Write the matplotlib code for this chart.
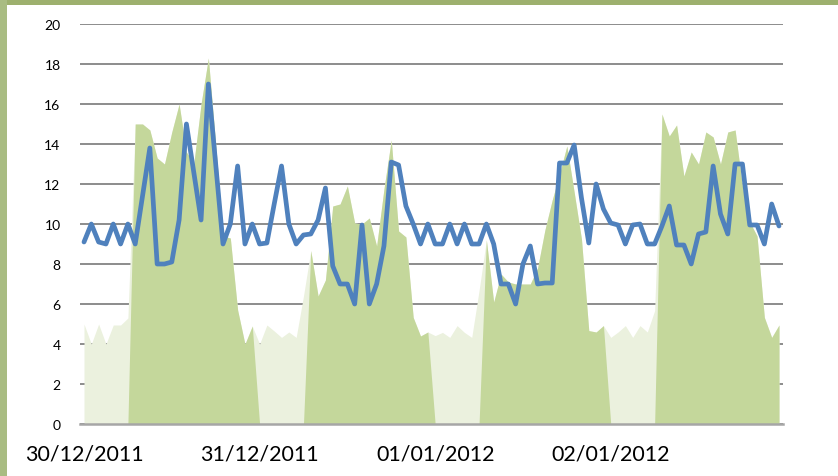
import matplotlib
matplotlib.use("Agg")
import matplotlib.pyplot as plt
from matplotlib.patches import Rectangle

# ---------------- data (hourly, 30/12/2011 00:00 .. 02/01/2012 23:00) ----------------
hours = list(range(96))

tick_positions = [0, 24, 48, 72]
tick_labels = ["30/12/2011", "31/12/2011", "01/01/2012", "02/01/2012"]

# total (light area: shows where the peak series is zero)
off_peak = [
    5.0, 4.0, 5.0, 4.0, 4.95, 4.95, 5.3, 15.0, 15.0, 14.7, 13.3, 13.0,
    14.6, 16.0, 13.6, 13.0, 16.0, 18.3, 14.0, 9.4, 9.3, 5.7, 4.0, 4.9,
    4.0, 4.95, 4.65, 4.33, 4.6, 4.33, 6.4, 8.67, 6.4, 7.2, 10.9, 11.0,
    11.9, 10.05, 10.0, 10.3, 8.9, 11.75, 14.2, 9.65, 9.35, 5.33, 4.4, 4.6,
    4.42, 4.58, 4.33, 4.92, 4.58, 4.33, 6.67, 9.2, 6.1, 7.5, 7.1, 7.0,
    7.0, 7.0, 7.8, 9.7, 11.2, 12.5, 13.9, 11.6, 9.25, 4.67, 4.6, 4.92,
    4.33, 4.6, 4.92, 4.33, 4.92, 4.6, 5.67, 15.5, 14.4, 14.95, 12.4, 13.6,
    13.0, 14.6, 14.35, 13.0, 14.6, 14.7, 11.9, 10.1, 9.4, 5.33, 4.33, 4.95,
]

# peak hours (dark area)
peak = [
    0, 0, 0, 0, 0, 0, 0, 15.0, 15.0, 14.7, 13.3, 13.0,
    14.6, 16.0, 13.6, 13.0, 16.0, 18.3, 14.0, 9.4, 9.3, 5.7, 4.0, 4.9,
    0, 0, 0, 0, 0, 0, 0, 8.67, 6.4, 7.2, 10.9, 11.0,
    11.9, 10.05, 10.0, 10.3, 8.9, 11.75, 14.2, 9.65, 9.35, 5.33, 4.4, 4.6,
    0, 0, 0, 0, 0, 0, 0, 9.2, 6.1, 7.5, 7.1, 7.0,
    7.0, 7.0, 7.8, 9.7, 11.2, 12.5, 13.9, 11.6, 9.25, 4.67, 4.6, 4.92,
    0, 0, 0, 0, 0, 0, 0, 15.5, 14.4, 14.95, 12.4, 13.6,
    13.0, 14.6, 14.35, 13.0, 14.6, 14.7, 11.9, 10.1, 9.4, 5.33, 4.33, 4.95,
]

# blue line
line_values = [
    9.1, 10.0, 9.1, 9.0, 10.0, 9.0, 10.0, 9.0, 11.4, 13.8, 8.0, 8.0,
    8.1, 10.2, 15.0, 12.6, 10.2, 17.0, 13.0, 9.0, 10.0, 12.9, 9.0, 10.0,
    9.0, 9.05, 11.0, 12.9, 10.0, 9.0, 9.45, 9.5, 10.2, 11.8, 7.9, 7.0,
    7.0, 6.0, 9.95, 6.0, 7.0, 8.9, 13.1, 12.95, 10.9, 10.0, 9.0, 10.0,
    9.0, 9.0, 10.0, 9.0, 10.0, 9.0, 9.0, 10.0, 9.0, 7.0, 7.0, 6.0,
    8.0, 8.9, 7.0, 7.05, 7.05, 13.05, 13.05, 13.95, 11.3, 9.05, 12.0, 10.75,
    10.05, 9.95, 9.0, 9.95, 10.0, 9.0, 9.0, 9.9, 10.9, 8.95, 8.95, 8.0,
    9.5, 9.6, 12.9, 10.5, 9.5, 13.0, 13.0, 9.95, 9.95, 9.0, 11.0, 9.9,
]

y_ticks = [0, 2, 4, 6, 8, 10, 12, 14, 16, 18, 20]

# ---------------- figure ----------------
W, H = 838, 477
fig = plt.figure(figsize=(W / 100, H / 100), dpi=100)
fig.patch.set_facecolor("white")

# decorative green frame (top band and left strip)
fig.add_artist(Rectangle((0, 1 - 6 / H), 1, 6 / H, transform=fig.transFigure,
                         facecolor="#9DB06E", edgecolor="none", zorder=0))
fig.add_artist(Rectangle((0, 0), 7 / W, 1, transform=fig.transFigure,
                         facecolor="#A9BC82", edgecolor="none", zorder=0))

left_px, right_px, top_px, bottom_px = 80, 783, 25, 425
ax = fig.add_axes([left_px / W, (H - bottom_px) / H,
                   (right_px - left_px) / W, (bottom_px - top_px) / H])
ax.set_facecolor("none")

ax.fill_between(hours, 0, off_peak, color="#EBF1DE", lw=0, zorder=1)
ax.fill_between(hours, 0, peak, color="#C4D79B", lw=0, zorder=1.1)
ax.plot(hours, line_values, color="#4F81BD", lw=3.4,
        solid_joinstyle="round", solid_capstyle="round", zorder=3)

unit = 695 / 95
ax.set_xlim(-4 / unit, 95 + 4 / unit)
ax.set_ylim(0, 20)

ax.set_yticks(y_ticks)
ax.set_yticklabels([str(v) for v in y_ticks], fontsize=10, family=["Lato", "DejaVu Sans"])
ax.set_xticks(tick_positions)
ax.set_xticklabels(tick_labels, fontsize=15.5, family=["Lato", "DejaVu Sans"])

ax.yaxis.grid(True, color="#8C8C8C", lw=1.4)
ax.set_axisbelow(True)
ax.tick_params(axis="both", length=0)
ax.tick_params(axis="y", pad=14)
ax.tick_params(axis="x", pad=14)

for s in ["left", "right", "top"]:
    ax.spines[s].set_visible(False)
ax.spines["bottom"].set_color("#A6A6A6")
ax.spines["bottom"].set_linewidth(1.8)
ax.spines["bottom"].set_zorder(2.5)

fig.savefig("out.png", dpi=100)
